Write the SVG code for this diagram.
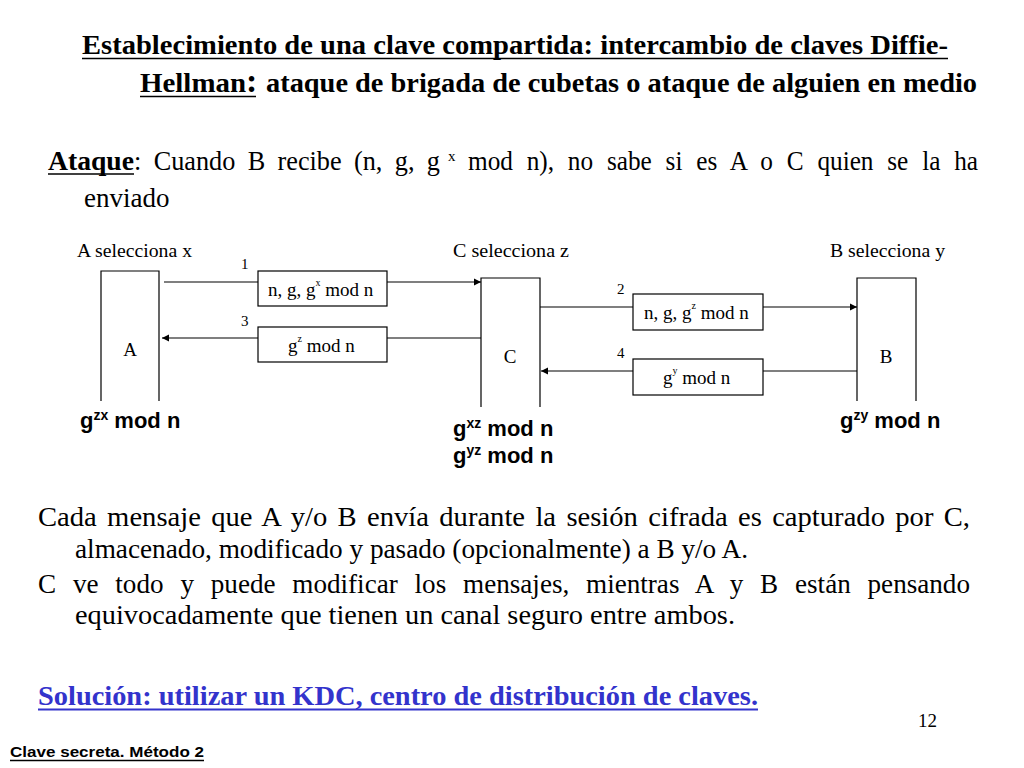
<svg xmlns="http://www.w3.org/2000/svg" width="1024" height="768" viewBox="0 0 1024 768">
<defs>
<style>
.serif{font-family:"Liberation Serif","Times New Roman",serif;fill:#000}
.sans{font-family:"Liberation Sans",Arial,sans-serif;fill:#000}
.b{font-weight:bold}
.ul{stroke:#000;stroke-width:1.6}
.box{fill:#fff;stroke:#000;stroke-width:1.2}
.party{fill:none;stroke:#000;stroke-width:1.2}
.conn{stroke:#000;stroke-width:1.2;fill:none}
.lbl{font-size:18px}
.msg{font-size:19px}
.num{font-size:15px}
.key{font-size:22px;font-weight:bold}
.body{font-size:27px}
</style>
<marker id="ah" markerWidth="8" markerHeight="8" refX="7" refY="4" orient="auto" markerUnits="userSpaceOnUse">
<path d="M0,0.5 L7,4 L0,7.5 Z" fill="#000"/>
</marker>
</defs>

<g id="title">
<text class="serif b" x="82" y="54" font-size="28" textLength="866" lengthAdjust="spacingAndGlyphs">Establecimiento de una clave compartida: intercambio de claves Diffie-</text>
<line class="ul" x1="82" y1="58.5" x2="948" y2="58.5"/>
<text class="serif b" x="140" y="92" font-size="28" textLength="106" lengthAdjust="spacingAndGlyphs">Hellman</text>
<text class="serif b" x="246" y="92" font-size="34">:</text>
<text class="serif b" x="266" y="92" font-size="28" textLength="711" lengthAdjust="spacingAndGlyphs">ataque de brigada de cubetas o ataque de alguien en medio</text>
<line class="ul" x1="140" y1="96.5" x2="256" y2="96.5"/>
</g>

<g id="ataque">
<text class="serif b body" x="48" y="170" textLength="86" lengthAdjust="spacingAndGlyphs">Ataque</text>
<line class="ul" x1="48" y1="174" x2="134" y2="174"/>
<text class="serif body" x="134" y="170" textLength="306" lengthAdjust="spacingAndGlyphs" word-spacing="6">: Cuando B recibe (n, g, g</text>
<text class="serif" x="448" y="161" font-size="15">x</text>
<text class="serif body" x="468" y="170" textLength="510" lengthAdjust="spacingAndGlyphs" word-spacing="8">mod n), no sabe si es A o C quien se la ha</text>
<text class="serif body" x="84" y="207">enviado</text>
</g>

<g id="labels">
<text class="serif lbl" x="77" y="257" textLength="115" lengthAdjust="spacingAndGlyphs">A selecciona x</text>
<text class="serif lbl" x="453" y="257" textLength="116" lengthAdjust="spacingAndGlyphs">C selecciona z</text>
<text class="serif lbl" x="830" y="257" textLength="115" lengthAdjust="spacingAndGlyphs">B selecciona y</text>
<text class="serif num" x="241" y="269">1</text>
<text class="serif num" x="241" y="326">3</text>
<text class="serif num" x="617" y="294">2</text>
<text class="serif num" x="617" y="358">4</text>
</g>

<g id="nodeA">
<path class="party" d="M101,401 V271 H159 V401"/>
<text class="serif msg" x="130" y="356" text-anchor="middle">A</text>
</g>
<g id="nodeC">
<path class="party" d="M481,407 V278 H540 V407"/>
<text class="serif msg" x="510" y="363" text-anchor="middle">C</text>
</g>
<g id="nodeB">
<path class="party" d="M857,401 V278 H916 V401"/>
<text class="serif msg" x="886" y="363" text-anchor="middle">B</text>
</g>

<g id="connectors">
<line class="conn" x1="164" y1="282" x2="258" y2="282"/>
<line class="conn" x1="387" y1="282" x2="481" y2="282" marker-end="url(#ah)"/>
<line class="conn" x1="481" y1="338" x2="387" y2="338"/>
<line class="conn" x1="258" y1="338" x2="162" y2="338" marker-end="url(#ah)"/>
<line class="conn" x1="540" y1="307" x2="633" y2="307"/>
<line class="conn" x1="763" y1="307" x2="857" y2="307" marker-end="url(#ah)"/>
<line class="conn" x1="857" y1="371" x2="763" y2="371"/>
<line class="conn" x1="633" y1="371" x2="541" y2="371" marker-end="url(#ah)"/>
</g>

<g id="msg1">
<rect class="box" x="258" y="271" width="129" height="35"/>
<text class="serif msg" x="268" y="296">n, g, g<tspan font-size="10" dy="-10">x</tspan><tspan dy="10"> mod n</tspan></text>
</g>
<g id="msg3">
<rect class="box" x="258" y="327" width="129" height="35"/>
<text class="serif msg" x="288" y="352">g<tspan font-size="10" dy="-10">z</tspan><tspan dy="10"> mod n</tspan></text>
</g>
<g id="msg2">
<rect class="box" x="633" y="294" width="130" height="36"/>
<text class="serif msg" x="644" y="319">n, g, g<tspan font-size="10" dy="-10">z</tspan><tspan dy="10"> mod n</tspan></text>
</g>
<g id="msg4">
<rect class="box" x="633" y="359" width="130" height="36"/>
<text class="serif msg" x="663" y="384">g<tspan font-size="10" dy="-10">y</tspan><tspan dy="10"> mod n</tspan></text>
</g>

<g id="keys">
<text class="sans key" x="80" y="428">g<tspan font-size="14" dy="-8">zx</tspan><tspan dy="8"> mod n</tspan></text>
<text class="sans key" x="453" y="436">g<tspan font-size="14" dy="-8">xz</tspan><tspan dy="8"> mod n</tspan></text>
<text class="sans key" x="453" y="463">g<tspan font-size="14" dy="-8">yz</tspan><tspan dy="8"> mod n</tspan></text>
<text class="sans key" x="840" y="428">g<tspan font-size="14" dy="-8">zy</tspan><tspan dy="8"> mod n</tspan></text>
</g>

<g id="paragraphs">
<text class="serif body" x="38" y="526" textLength="932" lengthAdjust="spacingAndGlyphs" word-spacing="3">Cada mensaje que A y/o B envía durante la sesión cifrada es capturado por C,</text>
<text class="serif body" x="75" y="558" textLength="673" lengthAdjust="spacingAndGlyphs">almacenado, modificado y pasado (opcionalmente) a B y/o A.</text>
<text class="serif body" x="38" y="593" textLength="932" lengthAdjust="spacingAndGlyphs" word-spacing="10">C ve todo y puede modificar los mensajes, mientras A y B están pensando</text>
<text class="serif body" x="75" y="624" textLength="660" lengthAdjust="spacingAndGlyphs">equivocadamente que tienen un canal seguro entre ambos.</text>
</g>

<g id="solucion">
<text class="serif b" x="38" y="705" font-size="28" style="fill:#3333cc" textLength="720" lengthAdjust="spacingAndGlyphs">Solución: utilizar un KDC, centro de distribución de claves.</text>
<line x1="38" y1="709.5" x2="758" y2="709.5" stroke="#3333cc" stroke-width="2"/>
</g>

<g id="footer">
<text class="serif" x="918" y="727" font-size="19">12</text>
<text class="sans b" x="10" y="757" font-size="15" textLength="194" lengthAdjust="spacingAndGlyphs">Clave secreta. Método 2</text>
<line class="ul" x1="10" y1="760.5" x2="204" y2="760.5" stroke-width="1.3"/>
</g>
</svg>
